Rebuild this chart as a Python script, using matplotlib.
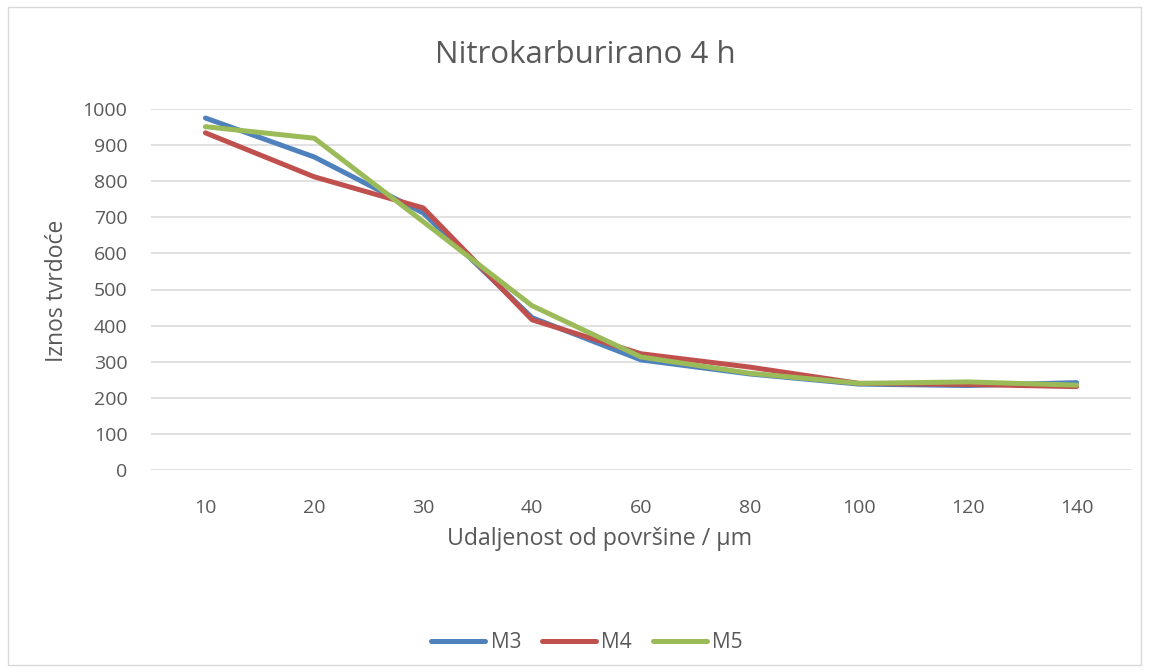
import numpy as np
import matplotlib.pyplot as plt
from matplotlib.patches import Rectangle

# data
categories = ['10', '20', '30', '40', '60', '80', '100', '120', '140']
m3 = [975, 867, 712, 422, 305, 266, 238, 234, 242]
m4 = [934, 812, 726, 416, 322, 285, 240, 237, 231]
m5 = [951, 919, 688, 455, 313, 268, 240, 244, 235]
series_names = ['M3', 'M4', 'M5']
colors = ['#4F81BD', '#C0504D', '#9BBB59']

plt.rcParams['font.family'] = ['Open Sans', 'DejaVu Sans']
text_col = '#595959'

fig = plt.figure(figsize=(11.49, 6.72), dpi=100)
ax = fig.add_axes([151/1149, 1-470/672, 980/1149, 361/672])

x = np.arange(len(categories))
for vals, name, c in zip([m3, m4, m5], series_names, colors):
    ax.plot(x, vals, color=c, linewidth=3.6, label=name,
            solid_capstyle='round', solid_joinstyle='round')

ax.set_xlim(-0.5, len(categories) - 0.5)
ax.set_ylim(0, 1000)
ax.set_yticks(np.arange(0, 1001, 100))
ax.set_xticks(x)
ax.set_xticklabels(categories)
ax.grid(axis='y', color='#D9D9D9', linewidth=1.1)
ax.set_axisbelow(True)
for s in ax.spines.values():
    s.set_visible(False)
ax.tick_params(length=0, colors=text_col, labelsize=14)
ax.tick_params(axis='y', pad=17)
ax.tick_params(axis='x', pad=21)

# title and x-axis title sit a bit left of the plot centre, as in Excel
fig.text(585/1149, 1-55/672, 'Nitrokarburirano 4 h', fontsize=22.5,
         color=text_col, ha='center', va='center')
fig.text(600/1149, 1-539/672, 'Udaljenost od površine / µm', fontsize=16.7,
         color=text_col, ha='center', va='center')
fig.text(57/1149, 1-291/672, 'Iznos tvrdoće', fontsize=16.5, rotation=90,
         color=text_col, ha='center', va='center')

fig.legend(loc='center', bbox_to_anchor=(587/1149, 1-643/672), ncol=3,
           frameon=False, fontsize=15, labelcolor=text_col,
           handlelength=2.6, columnspacing=1.0, handletextpad=0.25)

fig.patches.append(Rectangle((8/1149, 7/672), 1133/1149, 658/672,
                             transform=fig.transFigure, fill=False,
                             edgecolor='#D9D9D9', linewidth=1))

fig.savefig('out.png', dpi=100)
